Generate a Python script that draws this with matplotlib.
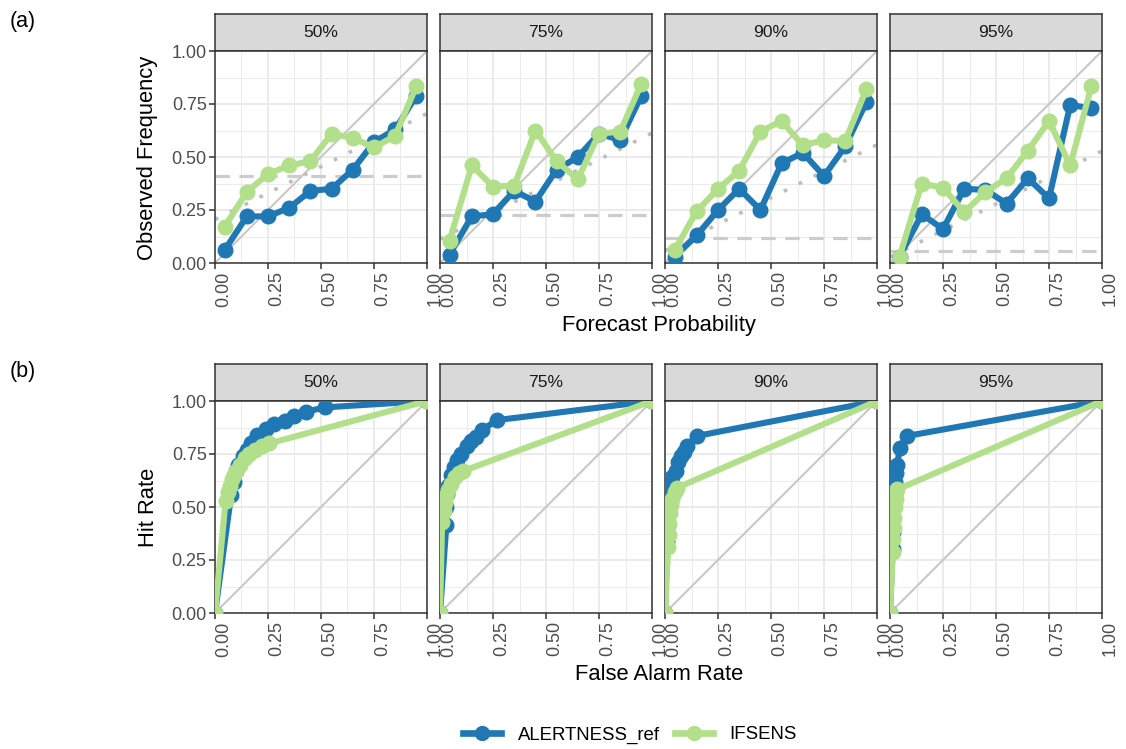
import matplotlib.pyplot as plt
import numpy as np
from matplotlib.lines import Line2D

plt.rcParams['font.family'] = ['Liberation Sans', 'DejaVu Sans']

# ---- data ----
levels = ['50%', '75%', '90%', '95%']
prob_bins = [0.045, 0.15, 0.25, 0.35, 0.45, 0.55, 0.65, 0.75, 0.85, 0.95]
climatology = [0.41, 0.226, 0.116, 0.057]

# observed frequency per forecast-probability bin
rel_alert = [
    [0.06, 0.22, 0.22, 0.26, 0.34, 0.35, 0.44, 0.57, 0.63, 0.79],
    [0.04, 0.22, 0.23, 0.34, 0.29, 0.44, 0.50, 0.61, 0.58, 0.79],
    [0.03, 0.13, 0.25, 0.35, 0.25, 0.47, 0.52, 0.41, 0.55, 0.76],
    [0.03, 0.23, 0.16, 0.35, 0.345, 0.28, 0.40, 0.305, 0.745, 0.73],
]
rel_ifsens = [
    [0.17, 0.335, 0.42, 0.46, 0.48, 0.61, 0.59, 0.545, 0.60, 0.835],
    [0.105, 0.46, 0.36, 0.365, 0.625, 0.48, 0.395, 0.61, 0.62, 0.845],
    [0.06, 0.245, 0.35, 0.435, 0.62, 0.67, 0.555, 0.58, 0.575, 0.82],
    [0.03, 0.375, 0.355, 0.24, 0.335, 0.40, 0.53, 0.67, 0.46, 0.835],
]

# ROC curves: false alarm rate / hit rate
far_alert = [
    [0, 0.076, 0.09, 0.10, 0.11, 0.13, 0.15, 0.17, 0.20, 0.24, 0.28, 0.33, 0.375, 0.43, 0.52, 1.0],
    [0, 0.03, 0.03, 0.035, 0.04, 0.05, 0.065, 0.08, 0.10, 0.125, 0.145, 0.17, 0.20, 0.27, 1.0],
    [0, 0.01, 0.012, 0.015, 0.02, 0.025, 0.035, 0.05, 0.06, 0.075, 0.09, 0.105, 0.15, 1.0],
    [0, 0.012, 0.014, 0.016, 0.018, 0.02, 0.025, 0.03, 0.035, 0.045, 0.08, 1.0],
]
hr_alert = [
    [0, 0.555, 0.62, 0.67, 0.70, 0.74, 0.77, 0.80, 0.84, 0.87, 0.89, 0.905, 0.93, 0.95, 0.97, 1.0],
    [0, 0.415, 0.50, 0.56, 0.60, 0.65, 0.69, 0.72, 0.75, 0.79, 0.81, 0.83, 0.865, 0.91, 1.0],
    [0, 0.34, 0.42, 0.50, 0.56, 0.60, 0.64, 0.67, 0.71, 0.74, 0.76, 0.79, 0.835, 1.0],
    [0, 0.30, 0.38, 0.45, 0.52, 0.58, 0.62, 0.66, 0.70, 0.78, 0.835, 1.0],
]
far_ifsens = [
    [0, 0.05, 0.06, 0.07, 0.08, 0.09, 0.10, 0.12, 0.14, 0.16, 0.19, 0.22, 0.256, 1.0],
    [0, 0.01, 0.02, 0.025, 0.03, 0.04, 0.05, 0.07, 0.09, 0.11, 1.0],
    [0, 0.015, 0.018, 0.02, 0.025, 0.03, 0.035, 0.045, 0.055, 1.0],
    [0, 0.014, 0.016, 0.018, 0.02, 0.022, 0.026, 0.03, 0.035, 1.0],
]
hr_ifsens = [
    [0, 0.53, 0.57, 0.60, 0.63, 0.65, 0.67, 0.70, 0.73, 0.75, 0.77, 0.79, 0.80, 1.0],
    [0, 0.43, 0.48, 0.52, 0.55, 0.58, 0.61, 0.64, 0.66, 0.67, 1.0],
    [0, 0.31, 0.37, 0.42, 0.47, 0.51, 0.54, 0.57, 0.59, 1.0],
    [0, 0.29, 0.35, 0.40, 0.45, 0.50, 0.54, 0.57, 0.583, 1.0],
]

BLUE = '#1F78B4'
GREEN = '#B2DF8A'
W, H = 1126, 749
TICKS = [0, 0.25, 0.5, 0.75, 1.0]
TICKLAB = ['0.00', '0.25', '0.50', '0.75', '1.00']
MINOR = np.arange(0.125, 1, 0.25)

fig = plt.figure(figsize=(W / 100, H / 100), dpi=100)


def rect(x0, y0, w, h):
    return [x0 / W, 1 - (y0 + h) / H, w / W, h / H]


def make_panel(x0, y0, label, first):
    strip = fig.add_axes(rect(x0, y0 - 37, 212, 37))
    strip.set_facecolor('#D9D9D9')
    strip.set_xticks([])
    strip.set_yticks([])
    for s in strip.spines.values():
        s.set_color('#333333')
        s.set_linewidth(1.1)
    strip.text(0.5, 0.5, label, ha='center', va='center', fontsize=12.6,
               color='#1A1A1A', transform=strip.transAxes)

    ax = fig.add_axes(rect(x0, y0, 212, 212))
    ax.set_xlim(0, 1)
    ax.set_ylim(0, 1)
    ax.set_xticks(TICKS)
    ax.set_xticklabels(TICKLAB, rotation=90, ha='left')
    ax.set_xticks(MINOR, minor=True)
    ax.set_yticks(TICKS)
    ax.set_yticks(MINOR, minor=True)
    if first:
        ax.set_yticklabels(TICKLAB)
    else:
        ax.tick_params(axis='y', which='major', length=0, labelleft=False)
    ax.tick_params(which='major', length=4, width=1.1, color='#333333',
                   labelsize=13, labelcolor='#4D4D4D', pad=2)
    if not first:
        ax.tick_params(axis='y', which='major', length=0)
    ax.tick_params(which='minor', length=0)
    ax.grid(True, which='major', color='#EBEBEB', linewidth=1.4)
    ax.grid(True, which='minor', color='#EBEBEB', linewidth=0.7)
    ax.set_axisbelow(True)
    for s in ax.spines.values():
        s.set_color('#333333')
        s.set_linewidth(1.1)
    ax.plot([0, 1], [0, 1], color='#C8C8C8', linewidth=1.5, zorder=1)
    return ax


x_left = [215, 440, 665, 890]
line_kw = dict(linewidth=4.4, marker='o', markersize=10.5, zorder=3)

# (a) reliability diagrams
for i, lev in enumerate(levels):
    ax = make_panel(x_left[i], 51, lev, i == 0)
    c = climatology[i]
    ax.axhline(c, color='#CCCCCC', linewidth=2.3, dashes=(4.5, 3), zorder=2)
    ax.plot([0, 1], [c / 2, (1 + c) / 2], color='#BDBDBD', linewidth=2.6,
            dashes=(1, 3.6), zorder=2)
    ax.plot(prob_bins, rel_alert[i], color=BLUE, **line_kw)
    ax.plot(prob_bins, rel_ifsens[i], color=GREEN, **line_kw)

# (b) ROC curves
for i, lev in enumerate(levels):
    ax = make_panel(x_left[i], 401, lev, i == 0)
    ax.plot(far_alert[i], hr_alert[i], color=BLUE, **line_kw)
    ax.plot(far_ifsens[i], hr_ifsens[i], color=GREEN, **line_kw)

fig.text(10 / W, 1 - 21 / H, '(a)', fontsize=15.5, va='center', ha='left')
fig.text(10 / W, 1 - 372 / H, '(b)', fontsize=15.5, va='center', ha='left')

fig.text(148 / W, 1 - 158 / H, 'Observed Frequency', rotation=90,
         fontsize=15.8, ha='center', va='center', color='black')
fig.text(148 / W, 1 - 507 / H, 'Hit Rate', rotation=90,
         fontsize=15.8, ha='center', va='center', color='black')
fig.text(659 / W, 1 - 326 / H, 'Forecast Probability',
         fontsize=15.8, ha='center', va='center', color='black')
fig.text(659 / W, 1 - 675 / H, 'False Alarm Rate',
         fontsize=15.8, ha='center', va='center', color='black')

handles = [Line2D([], [], color=BLUE, linewidth=4.8, marker='o', markersize=10),
           Line2D([], [], color=GREEN, linewidth=4.8, marker='o', markersize=10)]
fig.legend(handles, ['ALERTNESS_ref', 'IFSENS'], loc='center',
           bbox_to_anchor=(630 / W, 1 - 735 / H), ncol=2, frameon=False,
           fontsize=13.4, handlelength=2.05, columnspacing=0.8, handletextpad=0.9)

fig.savefig('out.png', dpi=100)
